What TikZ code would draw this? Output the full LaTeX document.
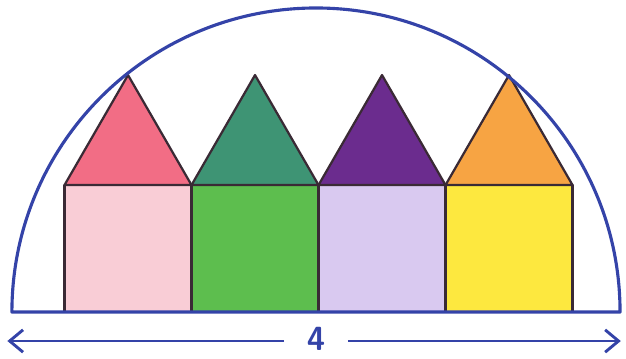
\documentclass[tikz,border=0pt]{standalone}
\usepackage{tikz}
\usetikzlibrary{arrows.meta}
\usepackage{xcolor}

\definecolor{penblue}{HTML}{3443A8}
\definecolor{outline}{HTML}{3A2A35}
\definecolor{roofA}{HTML}{F26D85}
\definecolor{wallA}{HTML}{F9CDD6}
\definecolor{roofB}{HTML}{3E9474}
\definecolor{wallB}{HTML}{5DBE4E}
\definecolor{roofC}{HTML}{6B2C8E}
\definecolor{wallC}{HTML}{D9C9F0}
\definecolor{roofD}{HTML}{F7A443}
\definecolor{wallD}{HTML}{FDE83F}

\begin{document}
\begin{tikzpicture}[x=2cm,y=2cm]
    \useasboundingbox (-2.488,-0.362) rectangle (2.441,2.457);

    % Houses: unit squares with equilateral roofs
    \foreach \k/\roof/\wall in {0/roofA/wallA,1/roofB/wallB,2/roofC/wallC,3/roofD/wallD} {
        \filldraw[fill=\wall, draw=outline, line width=1pt, line join=round]
            (-1.98+\k,0) rectangle (-0.98+\k,1);
        \filldraw[fill=\roof, draw=outline, line width=1pt, line join=round]
            (-1.98+\k,1) -- (-1.48+\k,{1+sqrt(3)/2}) -- (-0.98+\k,1) -- cycle;
    }

    % Semicircle through the outer roof tops
    \pgfmathsetmacro{\rad}{sqrt(2.25+(1+sqrt(3)/2)^2)}
    \draw[penblue, line width=1.4pt, line join=round]
        (\rad,0) arc[start angle=0, end angle=180, radius=\rad] -- cycle;

    % Width of the semicircle
    \node[penblue, inner sep=1pt, font=\fontsize{15}{18}\sffamily\bfseries] (four) at (0,-0.215) {4};
    \coordinate (arrL) at (-2.43,-0.228);
    \coordinate (arrR) at (2.40,-0.228);
    \draw[penblue, line width=1.3pt, -{Straight Barb[length=6pt,width=10pt]}] ([xshift=-9pt]four.west |- arrL) -- (arrL);
    \draw[penblue, line width=1.3pt, -{Straight Barb[length=6pt,width=10pt]}] ([xshift=9pt]four.east |- arrR) -- (arrR);
\end{tikzpicture}
\end{document}
